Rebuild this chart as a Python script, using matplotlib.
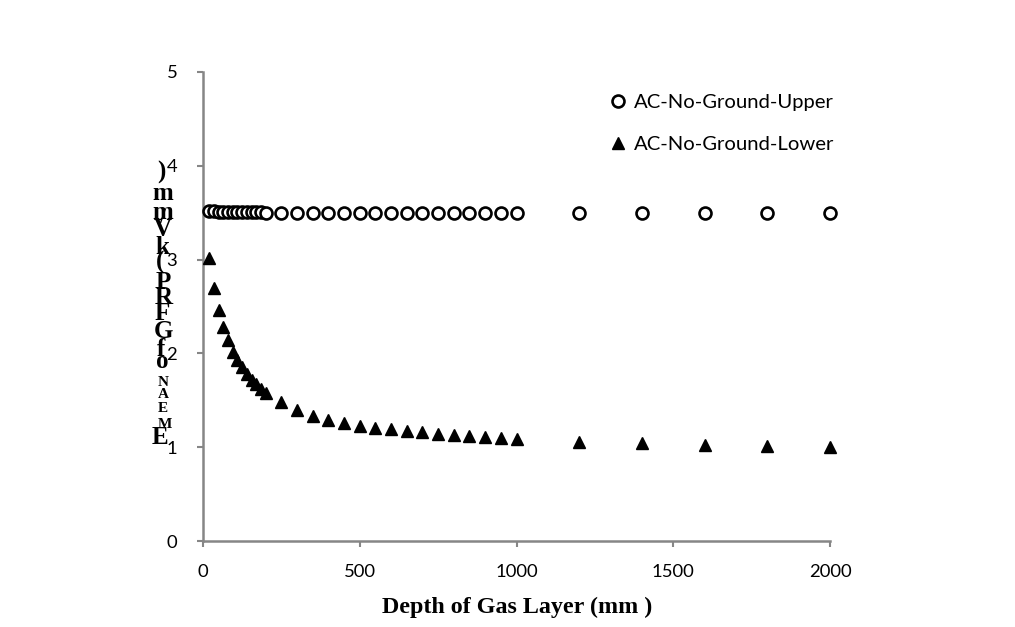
import matplotlib
matplotlib.use("Agg")
import matplotlib.pyplot as plt

# Data
depth = [20, 35, 50, 65, 80, 95, 110, 125, 140, 155, 170, 185, 200,
         250, 300, 350, 400, 450, 500, 550, 600, 650, 700, 750, 800, 850, 900, 950, 1000,
         1200, 1400, 1600, 1800, 2000]
upper = [3.52, 3.52, 3.51, 3.51, 3.51, 3.51, 3.51, 3.51, 3.51, 3.51, 3.51, 3.51, 3.50,
         3.50, 3.50, 3.50, 3.50, 3.50, 3.50, 3.50, 3.50, 3.50, 3.50, 3.50, 3.50, 3.50, 3.50, 3.50, 3.50,
         3.50, 3.50, 3.50, 3.50, 3.50]
lower = [3.02, 2.70, 2.46, 2.28, 2.14, 2.02, 1.93, 1.85, 1.78, 1.72, 1.67, 1.62, 1.58,
         1.48, 1.40, 1.33, 1.29, 1.26, 1.23, 1.21, 1.19, 1.175, 1.16, 1.145, 1.13, 1.12, 1.11, 1.10, 1.085,
         1.06, 1.04, 1.025, 1.01, 1.00]
series_names = ["AC-No-Ground-Upper", "AC-No-Ground-Lower"]
x_label = "Depth of Gas Layer (mm )"
x_ticks = [0, 500, 1000, 1500, 2000]
y_ticks = [0, 1, 2, 3, 4, 5]

W, H = 1015, 627
fig = plt.figure(figsize=(W / 100, H / 100), dpi=100)
ax = fig.add_axes([203 / W, 1 - 541 / H, (830 - 203) / W, (541 - 72) / H])

gray = "#868686"
tick_font = "Lato"

ax.plot(depth, upper, linestyle="none", marker="o", markersize=8.6,
        markerfacecolor="white", markeredgecolor="black", markeredgewidth=1.9,
        label=series_names[0], clip_on=False, zorder=3)
ax.plot(depth, lower, linestyle="none", marker="^", markersize=8.0,
        color="black", label=series_names[1], clip_on=False, zorder=3)

ax.set_xlim(0, 2000)
ax.set_ylim(0, 5)
ax.set_xticks(x_ticks)
ax.set_yticks(y_ticks)
for s in ["top", "right"]:
    ax.spines[s].set_visible(False)
for s in ["left", "bottom"]:
    ax.spines[s].set_color(gray)
    ax.spines[s].set_linewidth(1.8)
ax.tick_params(axis="both", direction="out", length=4.5, width=1.5, color=gray,
               labelsize=13.3, labelcolor="black")
ax.tick_params(axis="x", pad=12)
ax.tick_params(axis="y", pad=14)
for lbl in ax.get_xticklabels() + ax.get_yticklabels():
    lbl.set_fontfamily(tick_font)

leg = ax.legend(loc="upper left", bbox_to_anchor=(0.643, 0.953), frameon=False,
                prop={"family": tick_font, "size": 14.6}, handletextpad=0.15,
                handlelength=1.2, labelspacing=1.2, borderaxespad=0,
                borderpad=0)

fig.text(517 / W, 1 - 607 / H, x_label, ha="center", va="center",
         fontfamily="Liberation Serif", fontweight="bold", fontsize=17.3)

# garbled stacked y label (characters stacked bottom to top)
chars = [")", "m", "m", "/", "V", "k", "(", "P", "R", "F", "G", "f", "o",
         "N", "A", "E", "M", "E"]
ys = [172, 193, 212, 218, 230, 247, 262, 283, 298, 313, 331, 349, 362,
      383, 394, 408, 424, 437]
xs = [161, 163, 163, 162, 163, 162, 160, 163, 164, 162, 163, 161, 162,
      163, 163, 163, 165, 160]
sizes = [18, 18, 18, 15, 18, 18, 18, 18, 18, 18, 18, 18, 18,
         11, 11, 11, 11, 18]
for c, x, y, s in zip(chars, xs, ys, sizes):
    fig.text(x / W, 1 - y / H, c, ha="center", va="center",
             fontfamily="Liberation Serif", fontweight="bold", fontsize=s)

fig.savefig("out.png", dpi=100)
